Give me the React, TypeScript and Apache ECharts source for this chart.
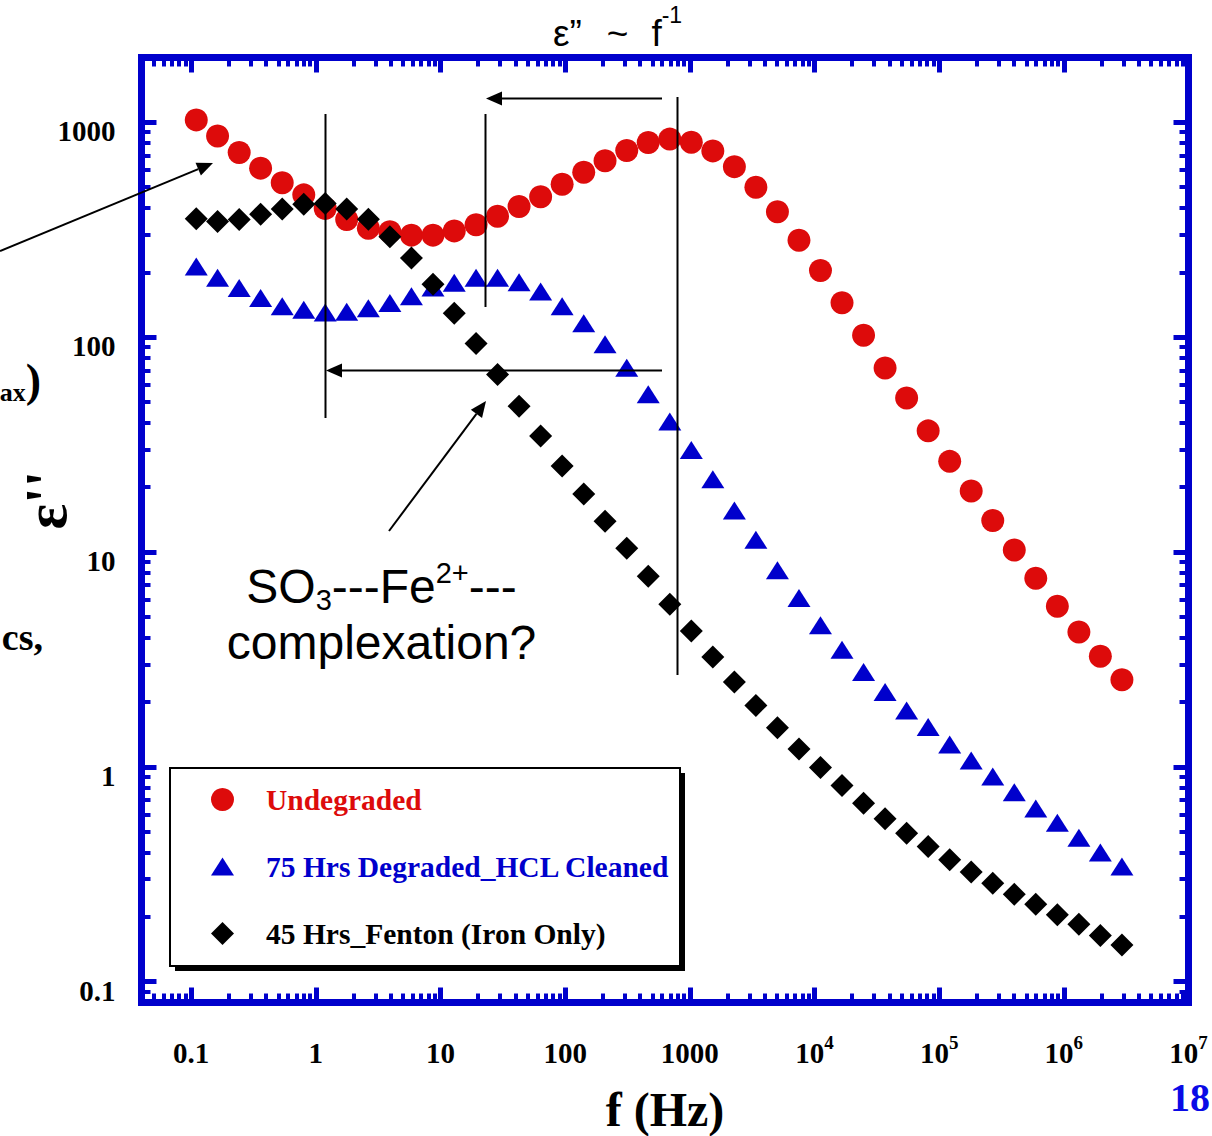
import React, { useEffect, useRef } from 'react';
import * as echarts from 'echarts';

// ---------- data ----------
const frequencies = [0.110, 0.163, 0.243, 0.361, 0.538, 0.801, 1.19, 1.77, 2.64, 3.93, 5.85, 8.71, 12.9, 19.3, 28.7, 42.7, 63.6, 94.6, 141, 209, 312, 464, 691, 1028, 1530, 2278, 3389, 5045, 7510, 11170, 16630, 24760, 36840, 54840, 81620, 121500, 180700, 269100, 400500, 595700, 887200, 1321000, 1963000, 2924000];

const undegraded = [1025, 863, 722, 611, 523, 459, 397, 352, 321, 309, 298, 298, 312, 333, 365, 405, 450, 514, 585, 662, 738, 804, 834, 807, 735, 621, 498, 383, 282, 204, 144.5, 101.9, 71.8, 52.0, 36.6, 26.4, 19.2, 14.0, 10.2, 7.54, 5.59, 4.24, 3.27, 2.54];

const degradedHcl = [213, 189, 169, 152, 139, 134, 130, 131, 136, 144, 155, 170, 179, 189, 189, 180, 163, 139, 116, 92.7, 71.9, 54.2, 40.5, 29.8, 21.8, 15.6, 11.4, 8.22, 6.11, 4.56, 3.51, 2.76, 2.23, 1.83, 1.53, 1.27, 1.07, 0.902, 0.762, 0.640, 0.549, 0.468, 0.399, 0.344];

const fentonIron = [355, 345, 352, 373, 394, 415, 418, 394, 353, 293, 233, 176, 129, 93.4, 67.0, 47.7, 34.6, 25.1, 18.6, 13.9, 10.4, 7.71, 5.71, 4.29, 3.24, 2.48, 1.93, 1.52, 1.21, 0.993, 0.819, 0.677, 0.573, 0.491, 0.426, 0.369, 0.324, 0.287, 0.255, 0.229, 0.205, 0.185, 0.164, 0.148];

const seriesNames = ['Undegraded', '75 Hrs Degraded_HCL Cleaned', '45 Hrs_Fenton (Iron Only)'];

const xMajorTicks = [0.1, 1, 10, 100, 1000, 10000, 100000, 1000000, 10000000];
const yMajorTicks = [0.1, 1, 10, 100, 1000];
const xRange = [0.04, 1e7];
const yRange = [0.08, 2000];

// ---------- styling ----------
const FRAME = '#0000CC';
const RED = '#DD0B0B';
const BLUE = '#0000CC';
const SERIF = '"Times New Roman", "Liberation Serif", "DejaVu Serif", serif';
const SANS = 'Arial, "Liberation Sans", Helvetica, sans-serif';

function minorTicks(lo: number, hi: number): number[] {
  const out: number[] = [];
  for (let e = Math.floor(Math.log10(lo)); e < Math.ceil(Math.log10(hi)); e++) {
    const d = Math.pow(10, e);
    for (let k = 2; k <= 9; k++) {
      const v = Number((k * d).toPrecision(6));
      if (v >= lo && v <= hi) out.push(v);
    }
  }
  return out;
}

function arrow(x1: number, y1: number, x2: number, y2: number, head = 16, half = 7) {
  const dx = x2 - x1;
  const dy = y2 - y1;
  const L = Math.hypot(dx, dy);
  const ux = dx / L;
  const uy = dy / L;
  const bx = x2 - ux * head;
  const by = y2 - uy * head;
  return [
    { type: 'line', z: 20, shape: { x1, y1, x2: bx, y2: by }, style: { stroke: '#000', lineWidth: 2 } },
    {
      type: 'polygon', z: 20,
      shape: { points: [[x2, y2], [bx - uy * half, by + ux * half], [bx + uy * half, by - ux * half]] },
      style: { fill: '#000' },
    },
  ];
}

function vline(x: number, y1: number, y2: number) {
  return { type: 'line', z: 20, shape: { x1: x, y1, x2: x, y2 }, style: { stroke: '#000', lineWidth: 2 } };
}

export default function App() {
  const ref = useRef<HTMLDivElement>(null);

  useEffect(() => {
    if (!ref.current) return;
    const chart = echarts.init(ref.current, undefined, { renderer: 'svg' });

    const xMinor = minorTicks(xRange[0], xRange[1]);
    const yMinor = minorTicks(yRange[0], yRange[1]);

    const baseAxis = {
      type: 'log',
      logBase: 10,
      splitLine: { show: false },
      minorTick: { show: false },
      minorSplitLine: { show: false },
    };
    const frameLine = { show: true, onZero: false, lineStyle: { color: FRAME, width: 7, cap: 'square' } };
    const majorTick = (vals: number[]) => ({ show: true, inside: true, length: 15, customValues: vals, lineStyle: { color: FRAME, width: 5 } });
    const minorTick = (vals: number[]) => ({ show: true, inside: true, length: 9, customValues: vals, lineStyle: { color: FRAME, width: 4 } });

    const labelRich = {
      b: { fontFamily: SERIF, fontSize: 29, fontWeight: 'bold', color: '#000', lineHeight: 40 },
      sup: { fontFamily: SERIF, fontSize: 19, fontWeight: 'bold', color: '#000', lineHeight: 20, verticalAlign: 'top' },
    };

    const xLabelFmt = (v: number) => {
      if (v < 10000) return '{b|' + String(v) + '}';
      return '{b|10}{sup|' + Math.round(Math.log10(v)) + '}';
    };
    const yLabelFmt = (v: number) => '{b|' + String(v) + '}';

    const xAxis = [
      {
        ...baseAxis, position: 'bottom', min: xRange[0], max: xRange[1],
        axisLine: frameLine, axisTick: majorTick(xMajorTicks),
        axisLabel: { show: true, customValues: xMajorTicks, formatter: xLabelFmt, rich: labelRich, margin: 30, showMinLabel: true, showMaxLabel: true, hideOverlap: false },
        name: 'f (Hz)', nameLocation: 'middle', nameGap: 83, nameMoveOverlap: false,
        nameTextStyle: { fontFamily: SERIF, fontSize: 48, fontWeight: 'bold', color: '#000' },
      },
      {
        ...baseAxis, position: 'bottom', min: xRange[0], max: xRange[1],
        axisLine: { show: false }, axisTick: minorTick(xMinor), axisLabel: { show: false },
      },
      {
        ...baseAxis, position: 'top', min: xRange[0], max: xRange[1],
        axisLine: frameLine, axisTick: majorTick(xMajorTicks), axisLabel: { show: false },
      },
      {
        ...baseAxis, position: 'top', min: xRange[0], max: xRange[1],
        axisLine: { show: false }, axisTick: minorTick(xMinor), axisLabel: { show: false },
      },
    ];

    const yAxis = [
      {
        ...baseAxis, position: 'left', min: yRange[0], max: yRange[1],
        axisLine: frameLine, axisTick: majorTick(yMajorTicks),
        axisLabel: { show: true, customValues: yMajorTicks, formatter: yLabelFmt, rich: labelRich, margin: 26, padding: [18, 0, 0, 0], showMinLabel: true, showMaxLabel: true, hideOverlap: false },
        name: "ε''", nameLocation: 'middle', nameRotate: 90, nameGap: 66, nameMoveOverlap: false,
        nameTextStyle: { fontFamily: SERIF, fontSize: 60, fontWeight: 'bold', color: '#000', padding: [0, 0, 0, 60] },
      },
      {
        ...baseAxis, position: 'left', min: yRange[0], max: yRange[1],
        axisLine: { show: false }, axisTick: minorTick(yMinor), axisLabel: { show: false },
      },
      {
        ...baseAxis, position: 'right', min: yRange[0], max: yRange[1],
        axisLine: frameLine, axisTick: majorTick(yMajorTicks), axisLabel: { show: false },
      },
      {
        ...baseAxis, position: 'right', min: yRange[0], max: yRange[1],
        axisLine: { show: false }, axisTick: minorTick(yMinor), axisLabel: { show: false },
      },
    ];

    const legendText = { fontFamily: SERIF, fontSize: 29.5, fontWeight: 'bold', padding: [0, 0, 0, 27] };
    const legendBase = { orient: 'vertical', left: 211, padding: 0, selectedMode: false, z: 10 };

    const graphicElements: any[] = [
      // legend frame with drop shadow
      { type: 'rect', z: 5, shape: { x: 175, y: 773, width: 510, height: 198 }, style: { fill: '#000' } },
      { type: 'rect', z: 6, shape: { x: 170, y: 768, width: 510, height: 198 }, style: { fill: '#fff', stroke: '#000', lineWidth: 2 } },
      // annotation lines
      vline(325.5, 114, 418),
      vline(485.5, 114, 307),
      vline(677.5, 97, 675),
      ...arrow(662, 98.5, 486, 98.5),
      ...arrow(662, 370.5, 326, 370.5),
      ...arrow(389, 531, 486, 401),
      ...arrow(0, 251, 213, 163),
      // annotation text
      {
        type: 'text', z: 20, x: 381.5, y: 586,
        style: {
          text: '{n|SO}{sub|3}{n|---Fe}{sup|2+}{n|---}',
          align: 'center', verticalAlign: 'middle',
          rich: {
            n: { fontFamily: SANS, fontSize: 48, fill: '#000', lineHeight: 56 },
            sub: { fontFamily: SANS, fontSize: 29, fill: '#000', lineHeight: 29, verticalAlign: 'bottom' },
            sup: { fontFamily: SANS, fontSize: 29, fill: '#000', lineHeight: 40, verticalAlign: 'top' },
          },
        },
      },
      {
        type: 'text', z: 20, x: 381.5, y: 642,
        style: { text: 'complexation?', align: 'center', verticalAlign: 'middle', fontFamily: SANS, fontSize: 48, fill: '#000' },
      },
      // partially visible slide texts at the left edge
      {
        type: 'text', z: 20, x: 41, y: 380,
        style: {
          text: '{s|ax}{p|)}', align: 'right', verticalAlign: 'middle',
          rich: {
            s: { fontFamily: SERIF, fontSize: 26, fontWeight: 'bold', fill: '#000', lineHeight: 34, verticalAlign: 'bottom' },
            p: { fontFamily: SERIF, fontSize: 46, fontWeight: 'bold', fill: '#000', lineHeight: 50 },
          },
        },
      },
      {
        type: 'text', z: 20, x: 43, y: 637,
        style: { text: 'cs,', align: 'right', verticalAlign: 'middle', fontFamily: SERIF, fontSize: 38, fontWeight: 'bold', fill: '#000' },
      },
      {
        type: 'text', z: 20, x: 1210, y: 1097,
        style: { text: '18', align: 'right', verticalAlign: 'middle', fontFamily: SERIF, fontSize: 40, fontWeight: 'bold', fill: '#0A0AE6' },
      },
    ];

    const titleFont = { fontFamily: SANS, fontSize: 37, fontWeight: 'normal', color: '#000', lineHeight: 60 };
    const option: any = {
      animation: false,
      backgroundColor: '#fff',
      title: {
        text: '{a|ε”}{g1| }{a|~}{g2| }{a|f}{s|-1}',
        left: 553, top: 3, padding: 0,
        textStyle: {
          fontWeight: 'normal',
          rich: {
            a: titleFont,
            g1: { ...titleFont, width: 25 },
            g2: { ...titleFont, width: 23 },
            s: { fontFamily: SANS, fontSize: 23, fontWeight: 'normal', color: '#000', lineHeight: 20, verticalAlign: 'top' },
          },
        },
      },
      grid: { left: 141.5, right: 23.5, top: 57.5, bottom: 133.5, containLabel: false, outerBoundsMode: 'none' },
      xAxis,
      yAxis,
      legend: [
        { ...legendBase, top: 784.5, itemWidth: 23, itemHeight: 23, data: [{ name: seriesNames[0], icon: 'circle', textStyle: { ...legendText, color: RED } }] },
        { ...legendBase, top: 851.5, itemWidth: 23, itemHeight: 18, data: [{ name: seriesNames[1], icon: 'triangle', textStyle: { ...legendText, color: BLUE } }] },
        { ...legendBase, top: 918.5, itemWidth: 23, itemHeight: 23, data: [{ name: seriesNames[2], icon: 'diamond', textStyle: { ...legendText, color: '#000' } }] },
      ],
      series: [
        {
          type: 'scatter', name: seriesNames[0], xAxisIndex: 0, yAxisIndex: 0,
          symbol: 'circle', symbolSize: 23, itemStyle: { color: RED, opacity: 1 },
          data: frequencies.map((f, i) => [f, undegraded[i]]),
        },
        {
          type: 'scatter', name: seriesNames[1], xAxisIndex: 0, yAxisIndex: 0,
          symbol: 'triangle', symbolSize: [23, 18], itemStyle: { color: BLUE, opacity: 1 },
          data: frequencies.map((f, i) => [f, degradedHcl[i]]),
        },
        {
          type: 'scatter', name: seriesNames[2], xAxisIndex: 0, yAxisIndex: 0,
          symbol: 'diamond', symbolSize: 23, itemStyle: { color: '#000', opacity: 1 },
          data: frequencies.map((f, i) => [f, fentonIron[i]]),
        },
      ],
      graphic: { elements: graphicElements },
    };

    chart.setOption(option);
    return () => chart.dispose();
  }, []);

  return <div ref={ref} style={{ position: 'fixed', left: 0, top: 0, width: 1212, height: 1136, background: '#fff' }} />;
}
